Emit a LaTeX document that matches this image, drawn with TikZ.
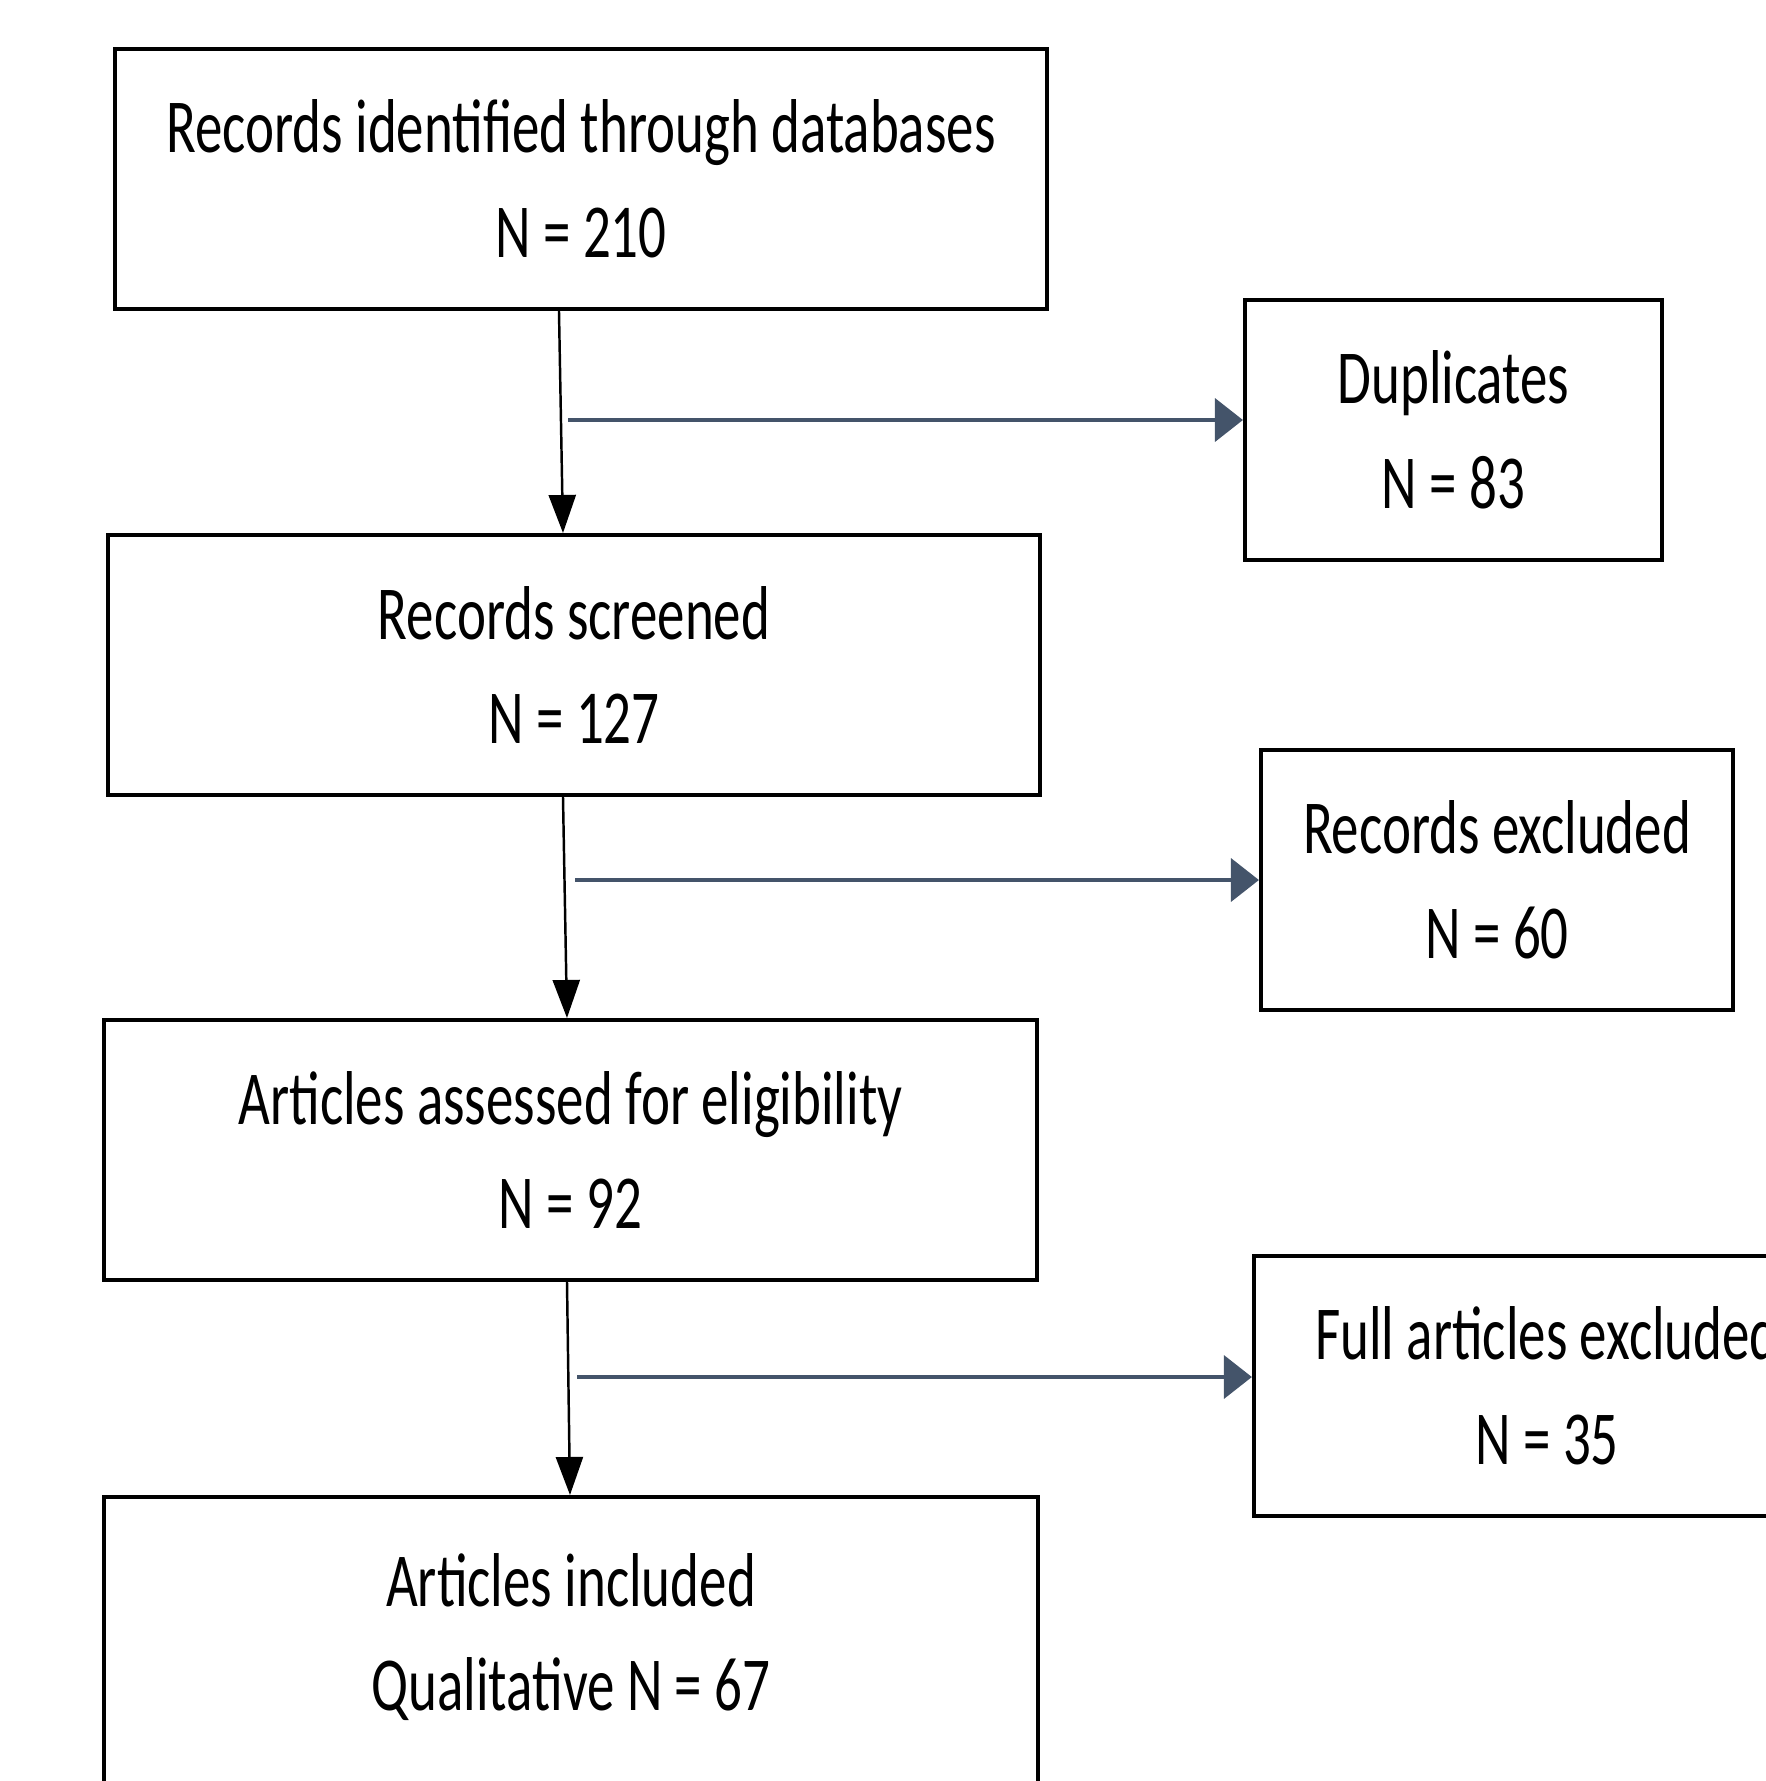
\documentclass[tikz,border=0pt]{standalone}
\usepackage{fontspec}
\setmainfont{Carlito}[FakeStretch=0.72]
\usetikzlibrary{arrows.meta}
\definecolor{slate}{HTML}{44546A}

\begin{document}
\begin{tikzpicture}[x=0.01cm, y=-0.01cm]
    % Styles
    \tikzstyle{box} = [rectangle, draw=black, line width=1.1pt, minimum height=2.6cm, align=center, inner sep=0pt, font=\fontsize{21.7pt}{29.8pt}\selectfont]
    \tikzstyle{flow} = [-{Triangle[length=0.38cm, width=0.27cm]}, line width=0.7pt]
    \tikzstyle{side} = [-{Triangle[length=0.28cm, width=0.43cm]}, line width=1.1pt, draw=slate, fill=slate]

    \useasboundingbox (0, 0) rectangle (1765, 1781);

    % Nodes
    \node[box, minimum width=9.32cm] (db) at (581, 179) {Records identified through databases\\N = 210};
    \node[box, minimum width=9.32cm] (scr) at (574, 665) {Records screened\\N = 127};
    \node[box, minimum width=9.33cm] (elig) at (570.5, 1150) {Articles assessed for eligibility\\N = 92};
    \node[box, minimum width=9.34cm, minimum height=3.2cm, anchor=north] (inc) at (571, 1495) {Articles included\\Qualitative N = 67\rule[-0.5cm]{0pt}{0.5cm}};

    \node[box, minimum width=4.17cm] (dup) at (1453.5, 430) {Duplicates\\N = 83};
    \node[box, minimum width=4.72cm] (exrec) at (1497, 880) {Records excluded\\N = 60};
    \node[box, minimum width=5.86cm] (exfull) at (1547, 1386) {Full articles excluded\\N = 35};

    % Arrows
    \draw[flow] ([xshift=-0.22cm]db.south) -- ([xshift=-0.11cm]scr.north);
    \draw[flow] ([xshift=-0.11cm]scr.south) -- ([xshift=-0.035cm]elig.north);
    \draw[flow] ([xshift=-0.035cm]elig.south) -- ([xshift=-0.01cm]inc.north);

    \coordinate (s1) at (568, 420);
    \coordinate (s2) at (575, 880);
    \coordinate (s3) at (577, 1377);
    \draw[side] (s1) -- (s1 -| dup.west);
    \draw[side] (s2) -- (s2 -| exrec.west);
    \draw[side] (s3) -- (s3 -| exfull.west);
\end{tikzpicture}
\end{document}
